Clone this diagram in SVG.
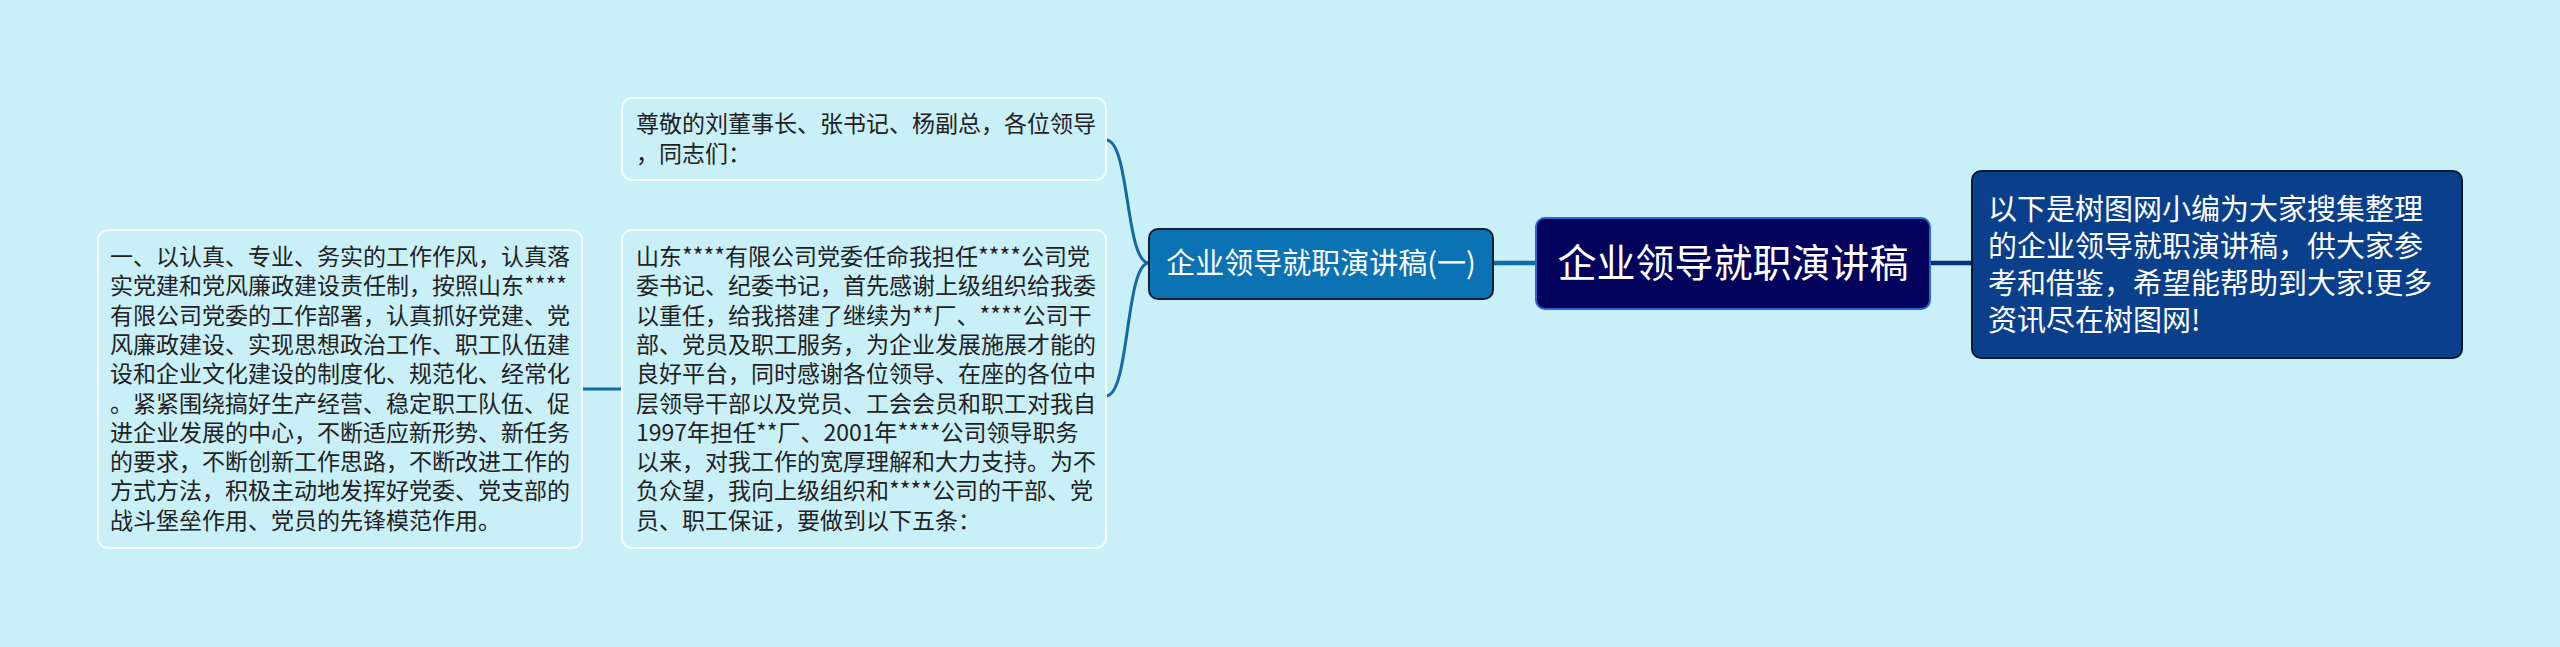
<svg xmlns="http://www.w3.org/2000/svg" width="2560" height="647" viewBox="0 0 2560 647">
<style>
.bg{fill:#c9eff7}
.leaf{fill:#c9eff7;stroke:#f2fbfd;stroke-width:2}
.t{font-family:"Noto Sans CJK SC","Noto Sans",sans-serif;font-size:23px;fill:#222}
.w{font-family:"Noto Sans CJK SC","Noto Sans",sans-serif;fill:#fff}
.c{fill:none;stroke:#126aa6;stroke-width:3;stroke-linecap:round}
</style>
<rect class="bg" x="0" y="0" width="2560" height="647"/>
<g id="connectors">
<path class="c" d="M1106,140 C1130,140 1125,263 1149,263"/>
<path class="c" d="M1106,396 C1130,396 1125,263 1149,263"/>
<line class="c" x1="581" y1="389" x2="622" y2="389"/>
<line x1="1493" y1="263" x2="1536" y2="263" stroke="#126aa6" stroke-width="4.5"/>
<line x1="1930" y1="263" x2="1972" y2="263" stroke="#0b2f78" stroke-width="4.5"/>
</g>
<g id="root">
<rect x="1536" y="218" width="394" height="91" rx="9" fill="#02025c" stroke="#2f62d2" stroke-width="2"/>
<text class="w" x="1733" y="277" font-size="39" text-anchor="middle">企业领导就职演讲稿</text>
</g>
<g id="summary">
<rect x="1972" y="171" width="490" height="187" rx="9" fill="#0a3f8c" stroke="#0a1a33" stroke-width="2"/>
<text class="w" font-size="29">
<tspan x="1988" y="219.5">以下是树图网小编为大家搜集整理</tspan>
<tspan x="1988" y="256.5">的企业领导就职演讲稿，供大家参</tspan>
<tspan x="1988" y="293.5">考和借鉴，希望能帮助到大家!更多</tspan>
<tspan x="1988" y="330.5">资讯尽在树图网!</tspan>
</text>
</g>
<g id="branch1">
<rect x="1149" y="229" width="344" height="70" rx="9" fill="#0b72b4" stroke="#0d1f33" stroke-width="2"/>
<text class="w" x="1321" y="274" font-size="29" text-anchor="middle">企业领导就职演讲稿(一)</text>
</g>
<g id="greeting">
<rect class="leaf" x="622" y="98" width="484" height="82" rx="10"/>
<text class="t">
<tspan x="636" y="132">尊敬的刘董事长、张书记、杨副总，各位领导</tspan>
<tspan x="636" y="162">，同志们：</tspan>
</text>
</g>
<g id="intro">
<rect class="leaf" x="622" y="230" width="484" height="318" rx="10"/>
<text class="t">
<tspan x="636" y="265">山东****有限公司党委任命我担任****公司党</tspan>
<tspan x="636" y="294.3">委书记、纪委书记，首先感谢上级组织给我委</tspan>
<tspan x="636" y="323.6">以重任，给我搭建了继续为**厂、****公司干</tspan>
<tspan x="636" y="352.9">部、党员及职工服务，为企业发展施展才能的</tspan>
<tspan x="636" y="382.2">良好平台，同时感谢各位领导、在座的各位中</tspan>
<tspan x="636" y="411.5">层领导干部以及党员、工会会员和职工对我自</tspan>
<tspan x="636" y="440.8">1997年担任**厂、2001年****公司领导职务</tspan>
<tspan x="636" y="470.1">以来，对我工作的宽厚理解和大力支持。为不</tspan>
<tspan x="636" y="499.4">负众望，我向上级组织和****公司的干部、党</tspan>
<tspan x="636" y="528.7">员、职工保证，要做到以下五条：</tspan>
</text>
</g>
<g id="point1">
<rect class="leaf" x="98" y="230" width="484" height="318" rx="10"/>
<text class="t">
<tspan x="110" y="265">一、以认真、专业、务实的工作作风，认真落</tspan>
<tspan x="110" y="294.3">实党建和党风廉政建设责任制，按照山东****</tspan>
<tspan x="110" y="323.6">有限公司党委的工作部署，认真抓好党建、党</tspan>
<tspan x="110" y="352.9">风廉政建设、实现思想政治工作、职工队伍建</tspan>
<tspan x="110" y="382.2">设和企业文化建设的制度化、规范化、经常化</tspan>
<tspan x="110" y="411.5">。紧紧围绕搞好生产经营、稳定职工队伍、促</tspan>
<tspan x="110" y="440.8">进企业发展的中心，不断适应新形势、新任务</tspan>
<tspan x="110" y="470.1">的要求，不断创新工作思路，不断改进工作的</tspan>
<tspan x="110" y="499.4">方式方法，积极主动地发挥好党委、党支部的</tspan>
<tspan x="110" y="528.7">战斗堡垒作用、党员的先锋模范作用。</tspan>
</text>
</g>
</svg>
